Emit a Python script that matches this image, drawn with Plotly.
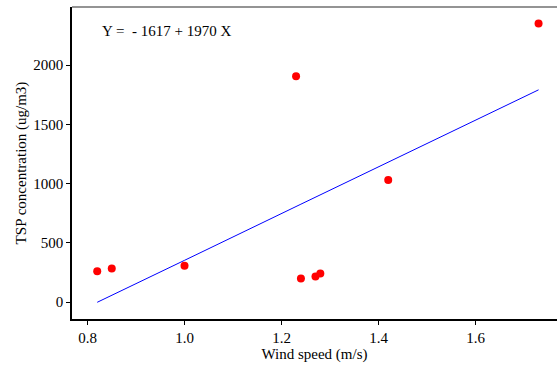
import plotly.graph_objects as go

wind_speed = [0.82, 0.85, 1.00, 1.23, 1.24, 1.27, 1.28, 1.42, 1.73]
tsp = [260, 284, 307, 1905, 198, 215, 240, 1030, 2350]

fit_x = [0.82, 0.85, 1.00, 1.24, 1.28, 1.42, 1.73]
fit_y = [-2, 58, 352, 826, 905, 1180, 1791]

x_ticks = [0.8, 1.0, 1.2, 1.4, 1.6]
x_tick_text = ["0.8", "1.0", "1.2", "1.4", "1.6"]
y_ticks = [0, 500, 1000, 1500, 2000]
y_tick_text = ["0", "500", "1000", "1500", "2000"]

equation = "Y =  - 1617 + 1970 X"

font_family = "Liberation Serif, Times New Roman, serif"

fig = go.Figure()
fig.add_trace(go.Scatter(x=fit_x, y=fit_y, mode="lines",
                         line=dict(color="#0000ff", width=1), showlegend=False))
fig.add_trace(go.Scatter(x=wind_speed, y=tsp, mode="markers",
                         marker=dict(color="#ff0000", size=8), showlegend=False))

fig.add_annotation(x=0.058, y=0.923, xref="paper", yref="paper", text=equation,
                   showarrow=False, xanchor="left", yanchor="middle",
                   font=dict(family=font_family, size=15, color="black"))

fig.add_shape(type="line", xref="paper", yref="paper", x0=0, x1=1, y0=1, y1=1,
              line=dict(color="#707070", width=1.5))

fig.update_layout(
    width=557, height=367,
    margin=dict(l=72, r=0, t=7, b=48),
    paper_bgcolor="white", plot_bgcolor="white",
    font=dict(family=font_family, size=15, color="black"),
    xaxis=dict(range=[0.768, 1.768], tickvals=x_ticks, ticktext=x_tick_text,
               showgrid=False, zeroline=False, showline=True, linecolor="black",
               linewidth=1.5, ticks="outside", ticklen=4, tickcolor="black",
               tickfont=dict(size=15),
               title=dict(text="Wind speed (m/s)", standoff=2,
                          font=dict(family=font_family, size=15))),
    yaxis=dict(range=[-143, 2490], tickvals=y_ticks, ticktext=y_tick_text,
               showgrid=False, zeroline=False, showline=True, linecolor="black",
               linewidth=1.5, ticks="outside", ticklen=4, tickcolor="black",
               tickfont=dict(size=15),
               title=dict(text="TSP concentration (ug/m3)", standoff=3,
                          font=dict(family=font_family, size=15))),
)

fig.write_html("out.html")
